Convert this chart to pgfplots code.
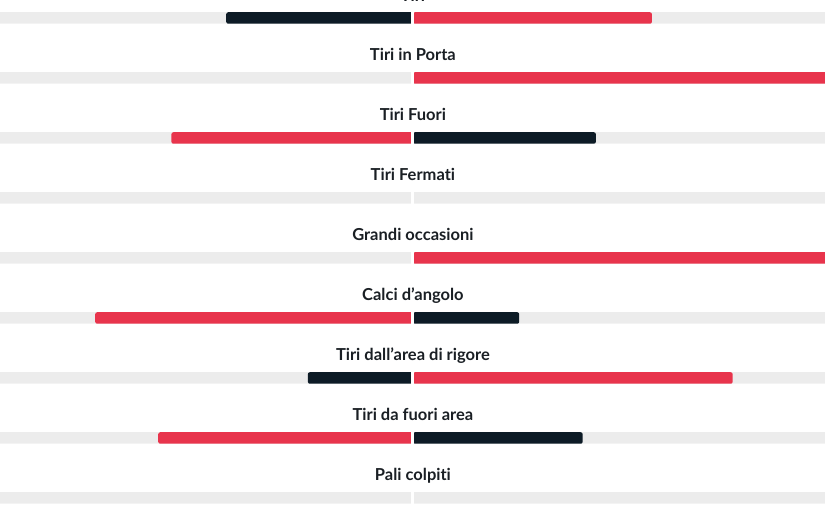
\documentclass[border=0pt]{standalone}
\usepackage{pgfplots}
\pgfplotsset{compat=1.18}
\usepackage{pgfplotstable}
\usepackage{fontspec}
\setmainfont{Lato}[Ligatures={NoCommon,NoDiscretionary,NoRare}]
\definecolor{trk}{HTML}{ECECEC}
\definecolor{dk}{HTML}{0D1B26}
\definecolor{rd}{HTML}{E8344C}
\definecolor{txt}{HTML}{1A1F24}
% y = -(pixel row of bar centre); values in % of half-width
\pgfplotstableread{
y    ld   lr   rdk  rr
-18  45.3 0    0    58.0
-78  0    0    0    101
-138 0    58.6 44.4 0
-198 0    0    0    0
-258 0    0    0    101
-318 0    77.1 25.8 0
-378 25.5 0    0    77.6
-438 0    61.8 41.2 0
-498 0    0    0    0
}\stats
\begin{document}
\begin{tikzpicture}
\begin{axis}[
  width=825pt, height=510pt, scale only axis,
  xmin=-100.2, xmax=100.0, ymin=-510, ymax=0,
  hide axis, clip=false,
  xbar, bar shift=0pt, bar width=11.5pt,
  every axis plot/.append style={draw=none},
]
\addplot[fill=trk] table[x expr=-102, y=y] {\stats};
\addplot[fill=trk] table[x expr=102, y=y] {\stats};
\addplot[fill=dk, rounded corners=2pt] table[x expr=-\thisrow{ld}, y=y] {\stats};
\addplot[fill=rd, rounded corners=2pt] table[x expr=-\thisrow{lr}, y=y] {\stats};
\addplot[fill=dk, rounded corners=2pt] table[x=rdk, y=y] {\stats};
\addplot[fill=rd, rounded corners=2pt] table[x=rr, y=y] {\stats};
\draw[white, line width=3pt] (axis cs:0,5) -- (axis cs:0,-515);
\begin{scope}[every node/.style={font=\fontsize{16.5}{19}\selectfont\bfseries, text=txt, anchor=base}]
\node at (axis cs:0,-2) {Tiri};
\node at (axis cs:0,-61) {Tiri in Porta};
\node at (axis cs:0,-121) {Tiri Fuori};
\node at (axis cs:0,-181) {Tiri Fermati};
\node at (axis cs:0,-241) {Grandi occasioni};
\node at (axis cs:0,-301) {Calci d'angolo};
\node at (axis cs:0,-361) {Tiri dall'area di rigore};
\node at (axis cs:0,-421) {Tiri da fuori area};
\node at (axis cs:0,-481) {Pali colpiti};
\end{scope}
\end{axis}
\pgfresetboundingbox
\path (current axis.south west) rectangle (current axis.north east);
\end{tikzpicture}
\end{document}
